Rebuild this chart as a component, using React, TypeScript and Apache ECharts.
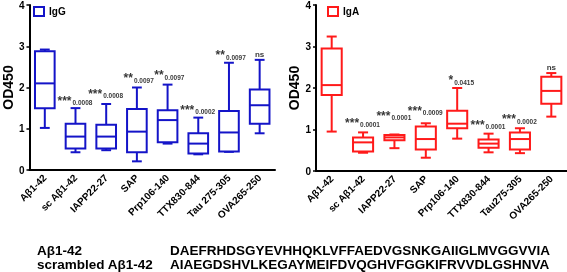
import React, { useEffect, useRef } from "react";
import * as echarts from "echarts";

const categoriesIgG = ["Aβ1-42", "sc Aβ1-42", "IAPP22-27", "SAP", "Prp106-140", "TTX830-844", "Tau 275-305", "OVA265-250"];
const categoriesIgA = ["Aβ1-42", "sc Aβ1-42", "IAPP22-27", "SAP", "Prp106-140", "TTX830-844", "Tau275-305", "OVA265-250"];

// [min, q1, median, q3, max]
const igG = [
  [1.02, 1.5, 2.1, 2.88, 2.92],
  [0.43, 0.52, 0.81, 1.12, 1.5],
  [0.48, 0.52, 0.81, 1.1, 1.6],
  [0.21, 0.43, 0.93, 1.48, 2.0],
  [0.64, 0.67, 1.21, 1.45, 2.07],
  [0.38, 0.4, 0.64, 0.89, 1.27],
  [0.44, 0.45, 0.91, 1.43, 2.6],
  [0.89, 1.12, 1.57, 1.95, 2.67],
];
const igA = [
  [0.95, 1.83, 2.07, 2.95, 3.24],
  [0.44, 0.47, 0.69, 0.81, 0.93],
  [0.55, 0.74, 0.81, 0.87, 0.88],
  [0.32, 0.52, 0.77, 1.07, 1.15],
  [0.78, 1.03, 1.14, 1.45, 2.0],
  [0.45, 0.56, 0.66, 0.76, 0.9],
  [0.43, 0.52, 0.77, 0.93, 1.03],
  [1.31, 1.62, 1.93, 2.27, 2.36],
];

// significance annotations: stars, p-value, anchor height
const igGStars = ["", "***", "***", "**", "**", "***", "**", "ns"];
const igGP = ["", "0.0008", "0.0008", "0.0097", "0.0097", "0.0002", "0.0097", ""];
const igGAnnY = [0, 1.75, 1.92, 2.3, 2.37, 1.53, 2.85, 2.83];
const igAStars = ["", "***", "***", "***", "*", "***", "***", "ns"];
const igAP = ["", "0.0001", "0.0001", "0.0009", "0.0415", "0.0001", "0.0002", ""];
const igAAnnY = [0, 1.23, 1.4, 1.52, 2.26, 1.19, 1.32, 2.52];

const seqLabels = ["Aβ1-42", "scrambled Aβ1-42"];
const seqs = [
  "DAEFRHDSGYEVHHQKLVFFAEDVGSNKGAIIGLMVGGVVIA",
  "AIAEGDSHVLKEGAYMEIFDVQGHVFGGKIFRVVDLGSHNVA",
];

const BLUE = "#1414c8";
const RED = "#ff1a1a";
const FONT = "Liberation Sans, Arial, sans-serif";

function boxRender(color: string) {
  return (params: any, api: any) => {
    const x = api.value(0);
    const mn = api.coord([x, api.value(1)]);
    const q1 = api.coord([x, api.value(2)]);
    const md = api.coord([x, api.value(3)]);
    const q3 = api.coord([x, api.value(4)]);
    const mx = api.coord([x, api.value(5)]);
    const bw = api.size([1, 0])[0] * 0.64;
    const cw = bw * 0.5;
    const cx = md[0];
    const st = { stroke: color, lineWidth: 2, fill: "none" };
    return {
      type: "group",
      children: [
        { type: "line", shape: { x1: cx, y1: q3[1], x2: cx, y2: mx[1] }, style: st },
        { type: "line", shape: { x1: cx - cw / 2, y1: mx[1], x2: cx + cw / 2, y2: mx[1] }, style: st },
        { type: "line", shape: { x1: cx, y1: q1[1], x2: cx, y2: mn[1] }, style: st },
        { type: "line", shape: { x1: cx - cw / 2, y1: mn[1], x2: cx + cw / 2, y2: mn[1] }, style: st },
        { type: "rect", shape: { x: cx - bw / 2, y: q3[1], width: bw, height: q1[1] - q3[1] }, style: { stroke: color, lineWidth: 2, fill: "#fff" } },
        { type: "line", shape: { x1: cx - bw / 2, y1: md[1], x2: cx + bw / 2, y2: md[1] }, style: st },
      ],
    };
  };
}

function makeAxes(cats: string[], gridIndex: number, nameGap: number) {
  const xAxis = {
    type: "category",
    gridIndex,
    data: cats,
    axisLine: { lineStyle: { color: "#000", width: 2 } },
    axisTick: { alignWithLabel: true, length: 4, lineStyle: { color: "#000", width: 1.5 } },
    axisLabel: { rotate: 45, interval: 0, color: "#000", fontFamily: FONT, fontWeight: "bold", fontSize: 10, margin: 6 },
  };
  const yAxis = {
    type: "value",
    gridIndex,
    min: 0,
    max: 4,
    interval: 1,
    name: "OD450",
    nameLocation: "middle",
    nameGap,
    nameRotate: 90,
    nameTextStyle: { color: "#000", fontFamily: FONT, fontWeight: "bold", fontSize: 14 },
    splitLine: { show: false },
    axisLine: { show: true, lineStyle: { color: "#000", width: 2 } },
    axisTick: { show: true, length: 3, lineStyle: { color: "#000", width: 1.5 } },
    axisLabel: { color: "#000", fontFamily: FONT, fontWeight: "bold", fontSize: 10, margin: 5 },
  };
  return { xAxis, yAxis };
}

function annSeries(stars: string[], ps: string[], ys: number[], axisIndex: number) {
  const starData = stars.map((s, i) => ({ value: [i, ys[i]], s })).filter((d) => d.s);
  const pData = ps.map((p, i) => ({ value: [i, ys[i]], p })).filter((d) => d.p);
  return [
    {
      type: "scatter",
      xAxisIndex: axisIndex,
      yAxisIndex: axisIndex,
      symbolSize: 0,
      silent: true,
      data: starData.map((d) => ({
        value: d.value,
        label: {
          show: true,
          formatter: d.s,
          position: [0, 0],
          align: d.s === "ns" ? "center" : "right",
          verticalAlign: "middle",
          offset: d.s === "ns" ? [0, 1] : [-4, 3],
          fontSize: d.s === "ns" ? 8 : 12,
          lineHeight: d.s === "ns" ? 8 : 6,
          fontWeight: "bold",
          fontFamily: FONT,
          color: "#000",
        },
      })),
    },
    {
      type: "scatter",
      xAxisIndex: axisIndex,
      yAxisIndex: axisIndex,
      symbolSize: 0,
      silent: true,
      data: pData.map((d) => ({
        value: d.value,
        label: {
          show: true,
          formatter: d.p,
          position: [0, 0],
          align: "left",
          verticalAlign: "middle",
          offset: [-3, 5],
          fontSize: 6.5,
          lineHeight: 6,
          fontWeight: "bold",
          fontFamily: FONT,
          color: "#000",
        },
      })),
    },
  ];
}

export default function App() {
  const ref = useRef<HTMLDivElement>(null);
  useEffect(() => {
    if (!ref.current) return;
    const chart = echarts.init(ref.current, null, { renderer: "svg" });
    const a0 = makeAxes(categoriesIgG, 0, 12);
    const a1 = makeAxes(categoriesIgA, 1, 15);
    const textStyle = { fill: "#000", fontFamily: FONT, fontWeight: "bold", fontSize: 13.5 };
    const legendBase = {
      top: 6,
      padding: 0,
      itemWidth: 10,
      itemHeight: 9,
      itemGap: 4,
      selectedMode: false,
      textStyle: { color: "#000", fontFamily: FONT, fontWeight: "bold", fontSize: 10 },
    };
    chart.setOption({
      animation: false,
      grid: [
        { left: 25, top: 3, width: 250, height: 167 },
        { left: 316, top: 3, width: 251, height: 168 },
      ],
      xAxis: [a0.xAxis, a1.xAxis],
      yAxis: [a0.yAxis, a1.yAxis],
      legend: [
        {
          ...legendBase,
          left: 33,
          data: [{ name: "IgG", icon: "rect", itemStyle: { color: "#fff", borderColor: BLUE, borderWidth: 2 } }],
        },
        {
          ...legendBase,
          left: 327,
          data: [{ name: "IgA", icon: "rect", itemStyle: { color: "#fff", borderColor: RED, borderWidth: 2 } }],
        },
      ],
      series: [
        {
          name: "IgG",
          type: "custom",
          xAxisIndex: 0,
          yAxisIndex: 0,
          renderItem: boxRender(BLUE),
          itemStyle: { color: BLUE },
          data: igG.map((d, i) => [i, ...d]),
          encode: { x: 0, y: [1, 2, 3, 4, 5] },
        },
        {
          name: "IgA",
          type: "custom",
          xAxisIndex: 1,
          yAxisIndex: 1,
          renderItem: boxRender(RED),
          itemStyle: { color: RED },
          data: igA.map((d, i) => [i, ...d]),
          encode: { x: 0, y: [1, 2, 3, 4, 5] },
        },
        ...annSeries(igGStars, igGP, igGAnnY, 0),
        ...annSeries(igAStars, igAP, igAAnnY, 1),
      ],
      graphic: [
        ...seqLabels.map((t, i) => ({ type: "text", left: 37, top: 243 + i * 14, style: { ...textStyle, text: t } })),
        ...seqs.map((t, i) => ({ type: "text", left: 170, top: 243 + i * 14, style: { ...textStyle, text: t } })),
      ],
    });
    return () => chart.dispose();
  }, []);
  return <div ref={ref} style={{ position: "fixed", left: 0, top: 0, width: 567, height: 272 }} />;
}
